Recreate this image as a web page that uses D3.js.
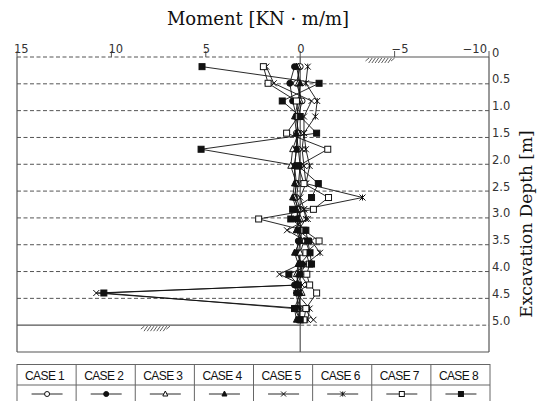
<!DOCTYPE html>
<html>
<head>
<meta charset="utf-8">
<script src="https://cdnjs.cloudflare.com/ajax/libs/d3/7.8.5/d3.min.js"></script>
<style>
	body { margin: 0; background: #fff; }
</style>
</head>
<body>
<svg id="chart" width="545" height="401"></svg>
<script>

// depth of each reading [m]
var depths = [0.18, 0.49, 0.82, 1.11, 1.42, 1.72, 2.03, 2.36, 2.62, 2.84, 3.02, 3.23, 3.43, 3.65, 3.86, 4.05, 4.25, 4.4, 4.69, 4.9];

// moment [KN m/m] for each case
var case1 = [0.0, 0.2, -0.1, 0.1, 0.2, 0.1, 0.0, 0.1, 0.2, 0.0, 0.1, -0.1, 0.0, 0.1, 0.0, -0.1, 0.2, 0.1, 0.0, 0.1];
var case2 = [0.3, 0.55, 0.4, 0.2, 0.1, 0.2, 0.3, 0.2, 0.3, 0.1, 0.2, 0.0, 0.1, 0.2, -0.1, 0.0, 0.3, 0.2, 0.1, 0.0];
var case3 = [0.1, 0.1, 0.0, 0.2, 0.1, 0.4, 0.5, 0.2, 0.3, 0.1, 0.0, 0.2, -0.2, 0.0, 0.1, 0.2, 0.1, -0.1, 0.2, 0.0];
var case4 = [0.2, 0.0, 0.1, 0.3, 0.2, 0.2, 0.3, 0.3, 0.4, 0.2, 0.1, 0.2, 0.0, 0.3, 0.1, 0.1, 0.2, 0.0, 0.3, 0.2];
var case5 = [1.8, 1.4, -0.6, -0.2, -0.2, -0.1, -0.2, -0.3, 0.0, -0.2, -0.4, 0.7, -0.3, -0.5, 0.0, 1.1, -0.1, 10.8, -0.2, -0.7];
var case6 = [-0.4, -0.3, -0.9, -0.8, -0.2, -0.3, -0.5, -0.3, -3.3, -0.2, -0.3, 0.1, -0.6, -1.05, -0.3, 0.0, -0.4, 0.2, -0.5, -0.4];
var case7 = [1.95, 1.7, 0.2, 0.1, 0.72, -1.46, 0.1, -0.2, -1.5, -0.7, 2.2, -0.2, -1.0, -0.3, -0.5, -0.35, -0.5, -0.87, -0.3, -0.2];
var case8 = [5.2, -1.0, 0.95, 0.0, -0.87, 5.25, 0.1, -0.96, -0.6, 0.4, 0.5, -0.3, -0.4, -0.52, -0.6, 0.6, 0.1, 10.4, 0.3, 0.0];

var caseNames = ["CASE 1", "CASE 2", "CASE 3", "CASE 4", "CASE 5", "CASE 6", "CASE 7", "CASE 8"];
var caseSymbols = ["circleOpen", "circleFilled", "triangleOpen", "triangleFilled", "cross", "asterisk", "squareOpen", "squareFilled"];

var momentTicks = [15, 10, 5, 0, -5, -10];
var momentTickLabels = ["15", "10", "5", "0", "\u22125", "\u221210"];
var depthTicks = [0, 0.5, 1.0, 1.5, 2.0, 2.5, 3.0, 3.5, 4.0, 4.5, 5.0];
var depthTickLabels = ["0", "0.5", "1.0", "1.5", "2.0", "2.5", "3.0", "3.5", "4.0", "4.5", "5.0"];

// ground level marks (moment position, depth)
var groundMarks = [[-4.2, 0], [7.7, 5.0]];

function renderMomentChart(element) {

	var svg = d3.select(element);

	var x = d3.scaleLinear().domain([15, -10]).range([17, 489]);
	var y = d3.scaleLinear().domain([0, 5.5]).range([57, 352]);

	var axisColor = "#555";
	var lineColor = "#111";

	var allCases = [case1, case2, case3, case4, case5, case6, case7, case8];

	function addFrame() {

		//dashed depth lines
		svg.append("g")
			.selectAll("line")
			.data(depthTicks.slice(1))
			.enter()
			.append("line")
			.attr("x1", d => d == 5.0 ? x(0) : x(15))
			.attr("x2", x(-10))
			.attr("y1", d => y(d))
			.attr("y2", d => y(d))
			.attr("stroke", axisColor)
			.attr("stroke-width", 1)
			.attr("stroke-dasharray", "4,2.5");

		//top line: dashed on the left of 0, solid on the right
		svg.append("line")
			.attr("x1", x(15)).attr("x2", x(0))
			.attr("y1", y(0)).attr("y2", y(0))
			.attr("stroke", axisColor)
			.attr("stroke-dasharray", "4,2.5");

		var solid = [
			[x(0), y(0), x(-10), y(0)],
			[x(15), y(5.0), x(0), y(5.0)],
			[x(15), y(5.5), x(-10), y(5.5)],
			[x(15), y(0), x(15), y(5.5)],
			[x(-10), y(0), x(-10), y(5.5)],
			[x(0), y(0), x(0), y(5.5)]
		];

		svg.append("g")
			.selectAll("line")
			.data(solid)
			.enter()
			.append("line")
			.attr("x1", d => d[0]).attr("y1", d => d[1])
			.attr("x2", d => d[2]).attr("y2", d => d[3])
			.attr("stroke", axisColor)
			.attr("stroke-width", 1.2);

		//ticks on top
		svg.append("g")
			.selectAll("line")
			.data(momentTicks)
			.enter()
			.append("line")
			.attr("x1", d => x(d)).attr("x2", d => x(d))
			.attr("y1", y(0) - 6).attr("y2", y(0))
			.attr("stroke", axisColor);

		svg.append("g")
			.selectAll("text")
			.data(momentTicks)
			.enter()
			.append("text")
			.attr("x", (d, i) => i == momentTicks.length - 1 ? x(d) - 2 : x(d) - 3)
			.attr("y", y(0) - 4)
			.attr("text-anchor", (d, i) => i == momentTicks.length - 1 ? "end" : "start")
			.attr("font-family", "DejaVu Sans")
			.attr("font-size", "11.5px")
			.attr("fill", "#333")
			.text((d, i) => momentTickLabels[i]);

		svg.append("g")
			.selectAll("text")
			.data(depthTicks)
			.enter()
			.append("text")
			.attr("x", x(-10) + 3)
			.attr("y", d => y(d) - 0.5)
			.attr("font-family", "DejaVu Sans")
			.attr("font-size", "11.5px")
			.attr("fill", "#333")
			.text((d, i) => depthTickLabels[i]);

		//ground hatching
		groundMarks.forEach(function(g) {
			var gx = x(g[0]);
			var gy = y(g[1]);
			var hatch = svg.append("g").attr("stroke", "#333").attr("stroke-width", 0.8);
			for (var k = 0; k < 9; k++) {
				var hx = gx - 14 + k * 3.2;
				var h = (k == 0 || k == 8) ? 3 : 5;
				hatch.append("line")
					.attr("x1", hx).attr("y1", gy + 1 + h)
					.attr("x2", hx + 3.5).attr("y2", gy + 1);
			}
		});

		svg.append("text")
			.attr("x", 258)
			.attr("y", 25)
			.attr("text-anchor", "middle")
			.attr("font-family", "DejaVu Serif")
			.attr("font-size", "18px")
			.attr("fill", "#111")
			.text("Moment [KN \u00b7 m/m]");

		svg.append("text")
			.attr("transform", "translate(532,224) rotate(-90)")
			.attr("text-anchor", "middle")
			.attr("font-family", "DejaVu Serif")
			.attr("font-size", "17px")
			.attr("fill", "#111")
			.text("Excavation Depth [m]");
	}

	function drawSymbol(g, type, cx, cy, s) {

		var filled = /Filled/.test(type);
		var fill = filled ? lineColor : "#fff";

		if (type.indexOf("circle") == 0) {
			g.append("circle")
				.attr("cx", cx).attr("cy", cy).attr("r", s / 2)
				.attr("fill", fill).attr("stroke", lineColor);
		} else if (type.indexOf("square") == 0) {
			g.append("rect")
				.attr("x", cx - s / 2).attr("y", cy - s / 2)
				.attr("width", s).attr("height", s)
				.attr("fill", fill).attr("stroke", lineColor);
		} else if (type.indexOf("triangle") == 0) {
			var pts = [[cx, cy - s * 0.6], [cx - s / 2, cy + s * 0.4], [cx + s / 2, cy + s * 0.4]];
			g.append("path")
				.attr("d", d3.line()(pts) + "Z")
				.attr("fill", fill).attr("stroke", lineColor);
		} else {
			var h = s / 2;
			g.append("path")
				.attr("d", "M" + (cx - h) + "," + (cy - h) + "L" + (cx + h) + "," + (cy + h) +
					"M" + (cx - h) + "," + (cy + h) + "L" + (cx + h) + "," + (cy - h) +
					(type == "asterisk" ? "M" + cx + "," + (cy - h) + "L" + cx + "," + (cy + h) : ""))
				.attr("fill", "none").attr("stroke", lineColor);
		}
	}

	function addCases() {

		var line = d3.line()
			.x(d => x(d[0]))
			.y(d => y(d[1]));

		var series = allCases.map(values => values.map((v, i) => [v, depths[i]]));

		svg.append("g")
			.selectAll("path")
			.data(series)
			.enter()
			.append("path")
			.attr("d", line)
			.attr("fill", "none")
			.attr("stroke", lineColor)
			.attr("stroke-width", 0.9);

		series.forEach(function(points, c) {
			var g = svg.append("g");
			points.forEach(function(p) {
				drawSymbol(g, caseSymbols[c], x(p[0]), y(p[1]), 6);
			});
		});
	}

	function addLegend() {

		var left = 17, right = 490, top = 364.5, mid = 385, bottom = 406;
		var colWidth = (right - left) / caseNames.length;
		var legend = svg.append("g");

		legend.append("rect")
			.attr("x", left).attr("y", top)
			.attr("width", right - left).attr("height", bottom - top)
			.attr("fill", "none").attr("stroke", "#666");

		legend.append("line")
			.attr("x1", left).attr("x2", right)
			.attr("y1", mid).attr("y2", mid)
			.attr("stroke", "#666");

		legend.selectAll("line.col")
			.data(d3.range(1, caseNames.length))
			.enter()
			.append("line")
			.attr("class", "col")
			.attr("x1", i => left + i * colWidth).attr("x2", i => left + i * colWidth)
			.attr("y1", top).attr("y2", bottom)
			.attr("stroke", "#666");

		legend.selectAll("text")
			.data(caseNames)
			.enter()
			.append("text")
			.attr("x", (_, i) => left + (i + 0.5) * colWidth - 2)
			.attr("y", 380)
			.attr("text-anchor", "middle")
			.attr("font-family", "Liberation Sans")
			.attr("font-size", "12px")
			.attr("letter-spacing", "-0.6px")
			.attr("fill", "#111")
			.text(d => d);

		caseNames.forEach(function(_, i) {
			var cx = left + (i + 0.5) * colWidth;
			legend.append("line")
				.attr("x1", cx - 15).attr("x2", cx + 16)
				.attr("y1", 394).attr("y2", 394)
				.attr("stroke", lineColor).attr("stroke-width", 0.9);
			drawSymbol(legend, caseSymbols[i], cx + 0.5, 394, 5);
		});
	}

	addFrame();
	addCases();
	addLegend();
}

renderMomentChart("#chart");

</script>
</body>
</html>
